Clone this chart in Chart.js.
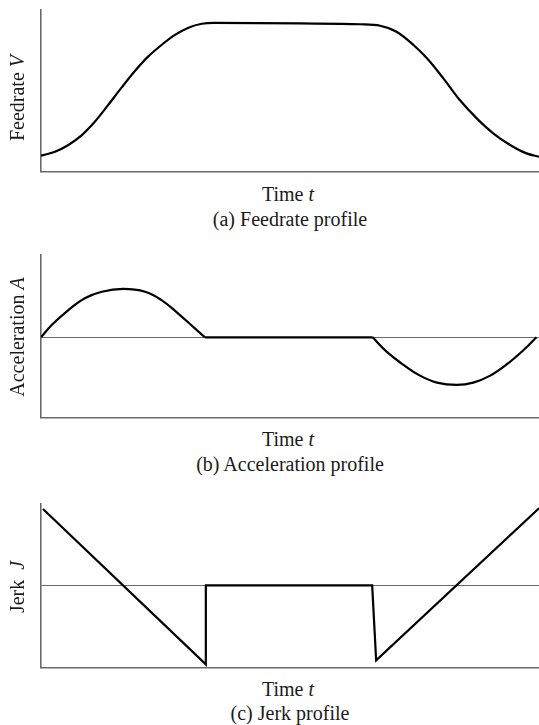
<!DOCTYPE html>
<html><head><meta charset="utf-8">
<script src="https://cdn.jsdelivr.net/npm/chart.js@4.4.1/dist/chart.umd.min.js"></script>
<style>
html,body{margin:0;padding:0;background:#fff;overflow:hidden;}
#wrap{position:relative;width:539px;height:725px;}
canvas{position:absolute;left:0;}
.lbl{position:absolute;font-family:'Liberation Serif','Times New Roman',serif;font-size:20px;line-height:22px;color:#1a1a1a;white-space:pre;transform:translateX(-50%);}
.ylbl{position:absolute;font-family:'Liberation Serif','Times New Roman',serif;font-size:20px;line-height:22px;color:#1a1a1a;white-space:pre;transform:translate(-50%,-50%) rotate(-90deg);}
</style></head>
<body><div id="wrap">
<canvas id="cA" width="539" height="180" style="top:0px"></canvas>
<canvas id="cB" width="539" height="180" style="top:245px"></canvas>
<canvas id="cC" width="539" height="180" style="top:494px"></canvas>

<div class="ylbl" style="left:17px;top:98px">Feedrate <i>V</i></div>
<div class="lbl" style="left:288px;top:183px">Time <i>t</i></div>
<div class="lbl" style="left:290px;top:208px">(a) Feedrate profile</div>

<div class="ylbl" style="left:17px;top:337px">Acceleration <i>A</i></div>
<div class="lbl" style="left:288px;top:428px">Time <i>t</i></div>
<div class="lbl" style="left:290px;top:453px">(b) Acceleration profile</div>

<div class="ylbl" style="left:17px;top:587px">Jerk  <i>J</i></div>
<div class="lbl" style="left:288px;top:678px">Time <i>t</i></div>
<div class="lbl" style="left:290px;top:702px">(c) Jerk profile</div>
</div>
<script>
// ---- data (time in % of total, values in arbitrary units) ----
const feedTime  = [0, 2.8, 5.5, 8.2, 10.8, 13.5, 16.2, 18.9, 21.5, 24.2, 26.9, 29.6, 32.3, 34.7, 52, 64.1, 68.1, 71.4, 74.8, 77.5, 80.8, 84.1, 87.5, 90.8, 94.2, 97.5, 100];
const feedValue = [10.1, 12.5, 16.7, 22.8, 31.0, 41.4, 52.2, 62.5, 71.2, 78.4, 84.6, 89.1, 91.5, 92.0, 91.7, 91.2, 90.3, 86.6, 78.4, 70.2, 57.8, 44.4, 33.1, 23.9, 16.7, 11.5, 9.4];

const accPosTime  = [0, 2.15, 5.5, 8.8, 12.2, 16.5, 20.9, 24.2, 27.5, 30.9, 32.9];
const accPosValue = [0, 0.154, 0.341, 0.488, 0.570, 0.605, 0.570, 0.466, 0.300, 0.111, 0];
const accNegTime  = [66.6, 69.4, 72.8, 76.1, 79.5, 83.5, 86.8, 90.2, 93.5, 96.9, 99.5];
const accNegValue = [0, -0.18, -0.346, -0.48, -0.567, -0.596, -0.567, -0.48, -0.34, -0.159, 0];

const jerkTime  = [0.4, 33.1, 33.1, 66.5, 67.3, 100];
const jerkValue = [0.954, -0.984, 0, 0, -0.934, 0.963];

const timeRange = [0, 100];
const feedRange = [0, 100];
const accRange  = [-1.01, 1.03];
const jerkRange = [-1.03, 1.016];

// ---- helpers ----
const pts = (xs, ys) => xs.map((x, i) => ({x: x, y: ys[i]}));
const AXIS = '#6a6a6a';

function lineDs(data, mode) {
  return {
    data: data,
    borderColor: '#000',
    borderWidth: 2.2,
    pointRadius: 0,
    fill: false,
    tension: mode ? 0.4 : 0,
    cubicInterpolationMode: mode === 'monotone' ? 'monotone' : 'default',
    borderJoinStyle: 'miter',
    borderCapStyle: 'butt'
  };
}

function makeChart(id, datasets, yRange, zeroLine, pad) {
  new Chart(document.getElementById(id), {
    type: 'line',
    data: {datasets: datasets},
    options: {
      responsive: false,
      animation: false,
      devicePixelRatio: 1,
      layout: {padding: pad},
      plugins: {legend: {display: false}, tooltip: {enabled: false}, title: {display: false}},
      scales: {
        x: {
          type: 'linear', min: timeRange[0], max: timeRange[1],
          ticks: {display: false},
          grid: {display: false, drawTicks: false, tickLength: 0},
          border: {display: true, color: AXIS, width: 1.6}
        },
        y: {
          type: 'linear', min: yRange[0], max: yRange[1],
          ticks: {display: false},
          afterBuildTicks: s => { s.ticks = zeroLine ? [{value: 0}] : []; },
          grid: {display: zeroLine, drawTicks: false, tickLength: 0, color: AXIS, lineWidth: 1.1},
          border: {display: true, color: AXIS, width: 1.6}
        }
      }
    }
  });
}

makeChart('cA', [lineDs(pts(feedTime, feedValue), 'monotone')], feedRange, false,
  {left: 41, top: 10, right: 0, bottom: 8});

const accFlat = [{x: accPosTime[accPosTime.length - 1], y: 0}, {x: accNegTime[0], y: 0}];
makeChart('cB', [
  lineDs(pts(accPosTime, accPosValue), 'spline'),
  lineDs(accFlat, null),
  lineDs(pts(accNegTime, accNegValue), 'spline')
], accRange, true, {left: 41, top: 10, right: 0, bottom: 7});

makeChart('cC', [lineDs(pts(jerkTime, jerkValue), null)], jerkRange, true,
  {left: 41, top: 10, right: 0, bottom: 6});
</script>
</body></html>
